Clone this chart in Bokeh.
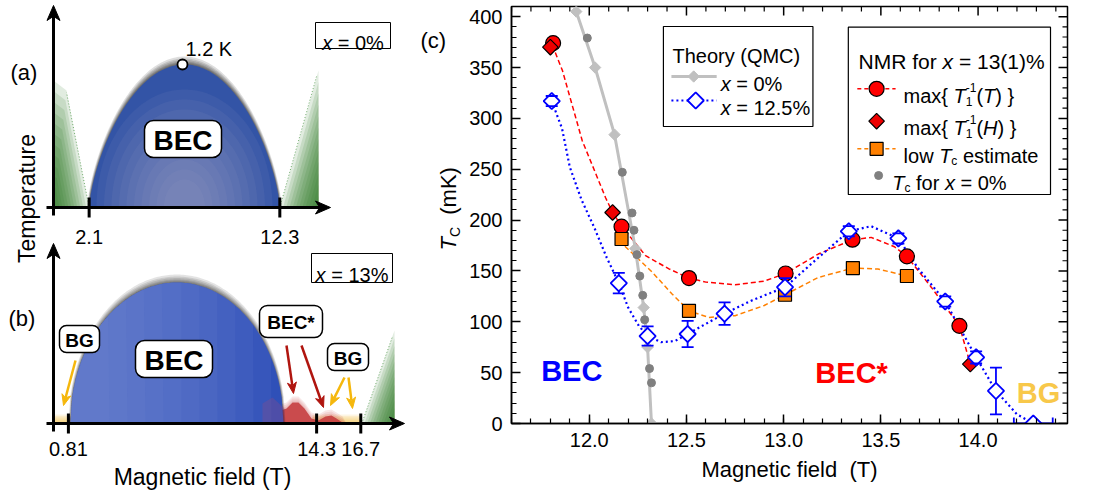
import numpy as np
from bokeh.plotting import figure
from bokeh.layouts import row
from bokeh.models import Range1d, LinearAxis, SingleIntervalTicker, PrintfTickFormatter
from bokeh.core.properties import value
from bokeh.embed import file_html
from bokeh.resources import INLINE

FONT = "Liberation Sans"

# ---------------- panel (c) data ----------------
# Theory (QMC), x = 0 %
qmc0_B = [11.933, 12.03, 12.13, 12.237, 12.28, 12.30, 12.32]
qmc0_T = [405, 350, 284, 172, 114, 75, 0]
# Theory (QMC), x = 12.5 %
qmc12_B = [11.807, 12.152, 12.30, 12.506, 12.696, 13.007, 13.335, 13.59, 13.831, 13.99, 14.092, 14.284]
qmc12_T = [317, 138, 86, 88, 108, 134, 189, 182, 120, 65, 32, 0]
qmc12_dT = [5, 10, 9.5, 13, 11, 9, 5, 5, 5, 6, 23, 0]
qmc12_dB = [0, 0, 0, 0, 0, 0, 0, 0, 0, 0, 0, 0.1]
# guide curve through theory x = 12.5 %
qmc12_fit_B = [11.807, 11.86, 11.9, 11.96, 12.025, 12.09, 12.152, 12.2, 12.255, 12.30, 12.37, 12.44,
               12.506, 12.6, 12.696, 12.836, 13.007, 13.178, 13.335, 13.45, 13.59, 13.69, 13.831,
               13.99, 14.092, 14.2, 14.284]
qmc12_fit_T = [317, 290, 252, 220, 193, 163, 138, 114, 96, 86, 80, 81,
               88, 98, 108, 121, 134, 163, 189, 194, 182, 153, 120,
               65, 32, 9, 0]
# NMR max{T1^-1(T)}
nmrT_B = [11.814, 12.166, 12.513, 13.01, 13.354, 13.634, 13.904]
nmrT_T = [374, 193.5, 143, 147.5, 180.7, 164.3, 96]
# NMR max{T1^-1(H)}
nmrH_B = [11.80, 12.12, 13.96]
nmrH_T = [370, 207.5, 58.4]
# low Tc estimate
low_B = [12.166, 12.513, 13.007, 13.356, 13.634]
low_T = [181.4, 110.8, 126.6, 152.8, 145]
# Tc for x = 0 % (NMR)
tc0_B = [11.99, 12.17, 12.22, 12.23, 12.245, 12.26, 12.275, 12.285, 12.31, 12.32]
tc0_T = [379, 247, 207, 190, 166, 145, 126, 102, 54, 40]
# guide curves
red_fit_B = [11.81, 11.862, 11.964, 12.084, 12.12, 12.17, 12.29, 12.41, 12.513, 12.6, 12.75, 12.9,
             13.01, 13.178, 13.354, 13.45, 13.57, 13.634, 13.76, 13.904, 13.96]
red_fit_T = [372, 347, 278, 222, 207.5, 193, 165, 152, 143, 139, 136.4, 140,
             147.5, 166.6, 180.7, 183, 173.8, 164.3, 133.8, 96, 58.4]
orange_fit_B = [12.166, 12.186, 12.323, 12.426, 12.513, 12.614, 12.75, 12.9, 13.007, 13.178,
                13.356, 13.485, 13.634]
orange_fit_T = [181.4, 173.8, 149, 127.3, 110.8, 104.3, 106, 116, 126.6, 143.6,
                152.8, 151.9, 145]

# ---------------- schematic panels (a), (b) ----------------
a_ticks = [2.1, 12.3]
a_tick_labels = ["2.1", "12.3"]
b_ticks = [0.81, 14.3, 16.7]
b_tick_labels = ["0.81", "14.3", "16.7"]
a_Tmax_label = "1.2 K"

# ---------------- text helpers ----------------
AW = {' ': 278, '\u00a0': 278, '!': 278, '%': 889, '(': 333, ')': 333, '*': 389, '+': 584, ',': 278,
      '-': 333, '.': 278, '=': 584, '{': 334, '}': 334, '\u2212': 584}
for c in '0123456789':
    AW[c] = 556
AW.update({'A': 667, 'B': 667, 'C': 722, 'D': 722, 'E': 667, 'F': 611, 'G': 778, 'H': 722, 'I': 278,
           'K': 667, 'L': 556, 'M': 833, 'N': 722, 'O': 778, 'P': 667, 'Q': 778, 'R': 722, 'S': 667,
           'T': 611, 'U': 722, 'V': 667, 'W': 944, 'X': 667, 'Y': 667, 'Z': 611,
           'a': 556, 'b': 556, 'c': 500, 'd': 556, 'e': 556, 'f': 278, 'g': 556, 'h': 556, 'i': 222,
           'j': 222, 'k': 500, 'l': 222, 'm': 833, 'n': 556, 'o': 556, 'p': 556, 'q': 556, 'r': 333,
           's': 500, 't': 278, 'u': 556, 'v': 500, 'w': 722, 'x': 500, 'y': 500, 'z': 500})
BW = {'B': 722, 'E': 667, 'C': 722, 'G': 778, '*': 389}


def tw(s, size, bold=False):
    tot = 0
    for c in s:
        tot += (BW.get(c, AW.get(c, 556)) if bold else AW.get(c, 556))
    return tot / 1000.0 * size


def txt(p, x, y, t, size, style="normal", color="black", align="left", baseline="middle", angle=0.0):
    p.text(x=[x], y=[y], text=[t], text_font=value(FONT), text_font_size=value(f"{int(round(size))}px"),
           text_font_style=style, text_color=color, text_align=align, text_baseline=baseline, angle=angle)


def rich(p, x, y, parts, size, color="black", ux=1.0, uy=1.0, vertical=False, align="left"):
    """parts: (text, font_style, scale, shift_em(up), advance)"""
    total = sum(tw(t, int(round(size * sc)), 'bold' in st) for t, st, sc, sh, adv in parts if adv)
    cx = -total / 2.0 if align == "center" else 0.0
    for t, st, sc, sh, adv in parts:
        fs = int(round(size * sc))
        up = sh * size
        if vertical:
            ex, ey = -up, cx
        else:
            ex, ey = cx, up
        txt(p, x + ex * ux, y + ey * uy, t.replace(' ', '\u00a0'), fs, style=st, color=color,
            baseline="alphabetic", angle=(np.pi / 2 if vertical else 0.0))
        if adv:
            cx += tw(t, fs, 'bold' in st)


def n(t):
    return (t, "normal", 1.0, 0.0, True)


def it(t):
    return (t, "italic", 1.0, 0.0, True)


def sub(t, adv=True):
    return (t, "normal", 0.62, -0.28, adv)


def sup(t, adv=True):
    return (t, "normal", 0.62, 0.42, adv)


# =============== figure 1 : schematic (a), (b) + labels of (c) ===============
TOTAL_W, H = 1097, 491
W1 = 466
p1 = figure(width=W1, height=H, x_range=Range1d(0, W1), y_range=Range1d(H, 0),
            x_axis_type=None, y_axis_type=None, output_backend="svg", toolbar_location=None,
            min_border=0, outline_line_color=None)
p1.grid.visible = False
p1.frame_align = False

OX = 53.0


def fx(B):
    return OX + 18.4 * B


def dome(x0, x1, ybase, height, a, npts=120):
    xs = np.linspace(x0, x1, npts)
    xc, hw = (x0 + x1) / 2, (x1 - x0) / 2
    u = np.clip((xs - xc) / hw, -1, 1)
    ys = ybase - height * (1 - u ** 2) ** a
    return list(xs), list(ys)


def arrowhead(p, tipx, tipy, dx, dy, L=15, Wd=13, color="black"):
    bx, by = tipx - dx * L, tipy - dy * L
    nx, ny = -dy, dx
    xs = [tipx, bx + nx * Wd / 2, tipx - dx * L * 0.72, bx - nx * Wd / 2]
    ys = [tipy, by + ny * Wd / 2, tipy - dy * L * 0.72, by - ny * Wd / 2]
    p.patch(xs, ys, fill_color=color, line_color=color, line_width=1)


def wedge_grad(p, corner, pts, color, layers=12, alpha=0.14):
    cx, cy = corner
    for k in range(layers):
        t = 1.0 - k / layers
        xs = [cx] + [cx + t * (px - cx) for px, py in pts]
        ys = [cy] + [cy + t * (py - cy) for px, py in pts]
        p.patch(xs, ys, fill_color=color, fill_alpha=alpha, line_color=None)


HALO = [8, 6, 4.5, 3, 2, 1]

# ---------- panel (a) ----------
ya = 207.0
wedge_grad(p1, (OX, ya), [(fx(a_ticks[0]) - 3, ya), (66, 90), (OX, 80)], "#2a7626")
p1.line([fx(a_ticks[0]) - 3, 66], [ya, 92], line_color="#3c8c36", line_width=1, line_dash="1 2", line_alpha=0.7)
xr = fx(a_ticks[1])
wedge_grad(p1, (318, ya), [(xr, ya), (318, 70)], "#2a7626")
p1.line([xr, 316], [ya, 76], line_color="#3c8c36", line_width=1, line_dash="1 2", line_alpha=0.7)

xa0, xa1 = fx(a_ticks[0]) - 3, fx(a_ticks[1])
for s in HALO:
    xs, ys = dome(xa0 - s * 0.25, xa1 + s * 0.25, ya, 143 + s, 0.7)
    p1.patch(xs + [xs[-1], xs[0]], ys + [ya, ya], fill_color="black", fill_alpha=0.13, line_color=None)
xs, ys = dome(xa0, xa1, ya, 143, 0.7)
p1.patch(xs, ys, fill_color="#3354a6", line_color=None)
cxa = (xa0 + xa1) / 2
for k in range(10):
    rx = 88 - k * 7.5
    ry = 118 - k * 10
    th = np.linspace(0, np.pi, 60)
    p1.patch(list(cxa + rx * np.cos(th)), list(ya - ry * np.sin(th)), fill_color="#a6a6cc",
             fill_alpha=0.09, line_color=None)

p1.line([OX, OX], [ya + 8, 14], line_color="black", line_width=3)
arrowhead(p1, OX, 5, 0, -1)
p1.line([46, 320], [ya, ya], line_color="black", line_width=3)
arrowhead(p1, 330, ya, 1, 0)
for B, lab in zip(a_ticks, a_tick_labels):
    xt_ = fx(B) - (3 if B < 5 else 0)
    p1.line([xt_, xt_], [ya - 10, ya + 10], line_color="black", line_width=3)
    txt(p1, xt_, ya + 29, lab, 20, align="center")
p1.scatter([cxa - 2], [ya - 143], size=10, marker="circle", fill_color="white", line_color="black", line_width=1.8)
txt(p1, 185, 48, a_Tmax_label, 20)
txt(p1, 10, 72, "(a)", 22)
p1.quad(left=[144], right=[221], top=[120], bottom=[157], fill_color="white", line_color="black",
        line_width=1.5, border_radius=9)
txt(p1, 182.5, 139.5, "BEC", 28, style="bold", align="center")
p1.quad(left=[315], right=[390], top=[22], bottom=[48], fill_color="white", line_color="black", line_width=1)
rich(p1, 352.5, 42, [it("x"), n(" = 0%")], 20, uy=-1, align="center")

# ---------- panel (b) ----------
yb = 423.0
wedge_grad(p1, (394, yb), [(fx(b_ticks[2]) + 1, yb), (394, 330)], "#2a7626")
p1.line([fx(b_ticks[2]) + 1, 392], [yb, 336], line_color="#3c8c36", line_width=1, line_dash="1 2", line_alpha=0.7)
for k in range(6):
    h = 9 - k * 1.4
    p1.quad(left=[OX], right=[fx(b_ticks[0]) + 6 - k], top=[yb - h], bottom=[yb], fill_color="#f2c24a",
            fill_alpha=0.16, line_color=None)
    p1.quad(left=[fx(b_ticks[1]) - 4], right=[fx(b_ticks[2])], top=[yb - h], bottom=[yb],
            fill_color="#f2c24a", fill_alpha=0.16, line_color=None)
rx_ = [252, 258, 265, 272, 280, 286, 292, 298, 304, 311, 318, 325, 331, 336, 342, 346]
ry_ = [423, 402, 396, 400, 410, 408, 402, 402, 408, 418, 420, 416, 415, 418, 422, 423]
for s in [6, 4, 2]:
    p1.patch(rx_, [v - s if v < yb else yb for v in ry_], fill_color="#c8383c",
             fill_alpha=0.12, line_color=None)
p1.patch(rx_, ry_, fill_color="#c63e40", fill_alpha=0.9, line_color=None)

xb0, xb1 = fx(b_ticks[0]) + 2, 283
for s in HALO:
    xs, ys = dome(xb0 - s * 0.25, xb1 + s * 0.25, yb, 141 + s, 0.5)
    p1.patch(xs + [xs[-1], xs[0]], ys + [yb, yb], fill_color="black", fill_alpha=0.11, line_color=None)
xs, ys = dome(xb0, xb1, yb, 141, 0.5)
p1.patch(xs, ys, fill_color="#2f50b8", line_color=None)
xs_arr, ys_arr = np.array(xs), np.array(ys)
for k in range(10):
    xcut = xb1 - 12 - k * 18
    m = xs_arr <= xcut
    px_ = list(xs_arr[m]) + [xcut]
    py_ = list(ys_arr[m]) + [yb]
    p1.patch(px_, py_, fill_color="#7b93dc", fill_alpha=0.1, line_color=None)
p1.patch([262, 272, 284, 284, 262], [403, 397, 408, 423, 423], fill_color="#8a4a8a", fill_alpha=0.35, line_color=None)

p1.line([OX, OX], [yb + 8, 252], line_color="black", line_width=3)
arrowhead(p1, OX, 243, 0, -1)
p1.line([46, 394], [yb, yb], line_color="black", line_width=3)
arrowhead(p1, 404, yb, 1, 0)
for B, lab in zip(b_ticks, b_tick_labels):
    p1.line([fx(B), fx(B)], [yb - 10, yb + 10], line_color="black", line_width=3)
    txt(p1, fx(B), yb + 25, lab, 20, align="center")
txt(p1, 8, 318, "(b)", 22)
for (x0_, y0_, x1_, y1_, col) in [(75, 360, 63, 405, "#f5b70c"), (344, 377, 330, 405, "#f5b70c"),
                                   (348, 377, 352, 408, "#f5b70c"),
                                   (286, 345, 293, 393, "#b0150f"), (301, 345, 323, 407, "#b0150f")]:
    L = np.hypot(x1_ - x0_, y1_ - y0_)
    dx, dy = (x1_ - x0_) / L, (y1_ - y0_) / L
    p1.line([x0_, x1_ - dx * 8], [y0_, y1_ - dy * 8], line_color=col, line_width=2.5)
    arrowhead(p1, x1_, y1_, dx, dy, L=11, Wd=9, color=col)
p1.quad(left=[135], right=[212], top=[340], bottom=[377], fill_color="white", line_color="black",
        line_width=1.5, border_radius=9)
txt(p1, 173.5, 359.5, "BEC", 28, style="bold", align="center")
p1.quad(left=[59], right=[99], top=[325], bottom=[352], fill_color="white", line_color="black",
        line_width=1.5, border_radius=7)
txt(p1, 79, 339.5, "BG", 19, style="bold", align="center")
p1.quad(left=[259], right=[322], top=[305], bottom=[337], fill_color="white", line_color="black",
        line_width=1.5, border_radius=8)
txt(p1, 290.5, 322, "BEC*", 19, style="bold", align="center")
p1.quad(left=[327], right=[368], top=[343], bottom=[370], fill_color="white", line_color="black",
        line_width=1.5, border_radius=7)
txt(p1, 347.5, 357.5, "BG", 19, style="bold", align="center")
p1.quad(left=[311], right=[392], top=[253], bottom=[282], fill_color="white", line_color="black", line_width=1)
rich(p1, 351.5, 274, [it("x"), n(" = 13%")], 20, uy=-1, align="center")

txt(p1, 26, 198, "Temperature", 23, align="center", angle=np.pi / 2)
txt(p1, 202, 476, "Magnetic field (T)", 23, align="center")

txt(p1, 420, 40, "(c)", 22)
rich(p1, 448, 250, [it("T"), sub("C"), n("  (mK)")], 22, uy=-1, vertical=True)

# =============== figure 2 : panel (c) ===============
W2 = TOTAL_W - W1
XR = (11.6, 14.46)
YR = (0, 410)
FR_L, FR_R, FR_T, FR_B = 510.7, 1067.0, 6.0, 423.0
p2 = figure(width=W2, height=H, x_range=Range1d(*XR), y_range=Range1d(*YR),
            x_axis_type=None, y_axis_type=None, output_backend="svg", toolbar_location=None,
            min_border_left=int(round(FR_L - W1)), min_border_right=int(TOTAL_W - FR_R),
            min_border_top=int(FR_T), min_border_bottom=int(H - FR_B),
            outline_line_color="black", outline_line_width=1.5)
p2.grid.visible = False
p2.frame_align = False

PXU = (XR[1] - XR[0]) / (FR_R - FR_L)
PYU = (YR[1] - YR[0]) / (FR_B - FR_T)


def X(px):
    return XR[0] + (px - FR_L) * PXU


def Y(py):
    return (FR_B - py) * PYU


def mk_axis(ticker, fmt):
    ax = LinearAxis(ticker=ticker, major_tick_in=9, major_tick_out=0, minor_tick_in=5, minor_tick_out=0,
                    major_tick_line_width=1.5, minor_tick_line_width=1.2, axis_line_width=1.5,
                    formatter=PrintfTickFormatter(format=fmt))
    ax.major_label_text_font = FONT
    ax.major_label_text_font_size = "20px"
    ax.major_label_text_color = "black"
    return ax


bx = mk_axis(SingleIntervalTicker(interval=0.5, num_minor_ticks=5), "%.1f")
bx.major_label_standoff = 9
bx.axis_label = "Magnetic field\u00a0 (T)"
bx.axis_label_text_font = FONT
bx.axis_label_text_font_size = "22px"
bx.axis_label_text_font_style = "normal"
bx.axis_label_text_color = "black"
bx.axis_label_standoff = 7
p2.add_layout(bx, "below")
ly = mk_axis(SingleIntervalTicker(interval=50, num_minor_ticks=5), "%d")
ly.major_label_standoff = 9
p2.add_layout(ly, "left")

# inward ticks on the top and right frame edges
top_ticks = [round(v, 2) for v in np.arange(11.6, XR[1], 0.1)]
top_major = [v for v in top_ticks if abs(v * 2 - round(v * 2)) < 1e-6]
top_minor = [v for v in top_ticks if v not in top_major]
right_ticks = list(range(0, 411, 10))
right_major = [v for v in right_ticks if v % 50 == 0]
right_minor = [v for v in right_ticks if v % 50 != 0]
for vals, Lp, lw in [(top_major, 9, 1.5), (top_minor, 5, 1.2)]:
    p2.segment(vals, [YR[1]] * len(vals), vals, [YR[1] - Lp * PYU] * len(vals), line_color="black", line_width=lw)
for vals, Lp, lw in [(right_major, 9, 1.5), (right_minor, 5, 1.2)]:
    p2.segment([XR[1]] * len(vals), vals, [XR[1] - Lp * PXU] * len(vals), vals, line_color="black", line_width=lw)

p2.line(red_fit_B, red_fit_T, line_color="#ff0000", line_width=1.5, line_dash="5 3")
p2.line(orange_fit_B, orange_fit_T, line_color="#ff8000", line_width=1.5, line_dash="5 3")
p2.line(qmc12_fit_B, qmc12_fit_T, line_color="#0000ff", line_width=2.2, line_dash="2 3")
p2.line(qmc0_B, qmc0_T, line_color="#c0c0c0", line_width=3)
p2.scatter(qmc0_B, qmc0_T, marker="square", angle=np.pi / 4, size=8, fill_color="#c0c0c0", line_color="#c0c0c0")
p2.scatter(tc0_B, tc0_T, marker="circle", size=8, fill_color="#808080", line_color="#808080")
p2.scatter(nmrT_B, nmrT_T, marker="circle", size=15, fill_color="#ff0000", line_color="black", line_width=1.2)
p2.scatter(nmrH_B, nmrH_T, marker="square", angle=np.pi / 4, size=11, fill_color="#ee0000",
           line_color="black", line_width=1.2)
p2.scatter(low_B, low_T, marker="square", size=13, fill_color="#ff8000", line_color="black", line_width=1.2)
ylo = [t - d for t, d in zip(qmc12_T, qmc12_dT)]
yhi = [t + d for t, d in zip(qmc12_T, qmc12_dT)]
p2.segment(qmc12_B, ylo, qmc12_B, yhi, line_color="#0000ff", line_width=1.8)
xlo = [b - d for b, d in zip(qmc12_B, qmc12_dB)]
xhi = [b + d for b, d in zip(qmc12_B, qmc12_dB)]
p2.segment(xlo, qmc12_T, xhi, qmc12_T, line_color="#0000ff", line_width=1.8)
p2.scatter(qmc12_B, qmc12_T, marker="square", angle=np.pi / 4, size=11.5, fill_color="white",
           line_color="#0000ff", line_width=1.8)
eb_B = [b for b, d in zip(qmc12_B, qmc12_dT) if d > 0]
p2.scatter(eb_B + eb_B, [t + d for t, d in zip(qmc12_T, qmc12_dT) if d > 0] +
           [t - d for t, d in zip(qmc12_T, qmc12_dT) if d > 0], marker="dash", size=12,
           line_color="#0000ff", line_width=1.8)
hb = [(b, t, d) for b, t, d in zip(qmc12_B, qmc12_T, qmc12_dB) if d > 0]
p2.scatter([b - d for b, t, d in hb] + [b + d for b, t, d in hb], [t for b, t, d in hb] * 2,
           marker="dash", angle=np.pi / 2, size=12, line_color="#0000ff", line_width=1.8)

txt(p2, X(571), Y(370), "BEC", 29, style="bold", color="#0000ff", align="center")
txt(p2, X(851), Y(372), "BEC*", 29, style="bold", color="#ff0000", align="center")
txt(p2, X(1038), Y(392), "BG", 29, style="bold", color="#f8c84a", align="center")

p2.quad(left=[X(662.7)], right=[X(812.3)], top=[Y(26)], bottom=[Y(126)], fill_color="white",
        line_color="black", line_width=1.2)
p2.quad(left=[X(847.7)], right=[X(1050)], top=[Y(26.7)], bottom=[Y(194)], fill_color="white",
        line_color="black", line_width=1.2)
LF = 20
rich(p2, X(671.7), Y(48.3 + 7), [n("Theory (QMC)")], LF, ux=PXU, uy=PYU)
p2.line([X(670.7), X(716)], [Y(76)] * 2, line_color="#c0c0c0", line_width=3)
p2.scatter([X(693)], [Y(76)], marker="square", angle=np.pi / 4, size=8, fill_color="#c0c0c0", line_color="#c0c0c0")
rich(p2, X(720), Y(76 + 7), [it("x"), n(" = 0%")], LF, ux=PXU, uy=PYU)
p2.line([X(670.7), X(716)], [Y(100)] * 2, line_color="#0000ff", line_width=2.2, line_dash="2 3")
p2.scatter([X(695)], [Y(100)], marker="square", angle=np.pi / 4, size=11.5, fill_color="white",
           line_color="#0000ff", line_width=1.8)
rich(p2, X(720), Y(100 + 7), [it("x"), n(" = 12.5%")], LF, ux=PXU, uy=PYU)

rich(p2, X(858), Y(53.3 + 7.5), [n("NMR for "), it("x"), n(" = 13(1)%")], 21, ux=PXU, uy=PYU)
p2.line([X(856.7), X(895)], [Y(88.3)] * 2, line_color="#ff0000", line_width=1.5, line_dash="4 3")
p2.scatter([X(876)], [Y(88.3)], marker="circle", size=15, fill_color="#ff0000", line_color="black", line_width=1.2)
rich(p2, X(903), Y(88.3 + 7), [n("max{ "), it("T"), sub("1", False), sup("-1"), n("("), it("T"), n(") }")],
     LF, ux=PXU, uy=PYU)
p2.scatter([X(876)], [Y(120.7)], marker="square", angle=np.pi / 4, size=11, fill_color="#ee0000",
           line_color="black", line_width=1.2)
rich(p2, X(903), Y(120.7 + 7), [n("max{ "), it("T"), sub("1", False), sup("-1"), n("("), it("H"), n(") }")],
     LF, ux=PXU, uy=PYU)
p2.line([X(856.7), X(895)], [Y(148.3)] * 2, line_color="#ff8000", line_width=1.5, line_dash="4 3")
p2.scatter([X(876)], [Y(148.3)], marker="square", size=13, fill_color="#ff8000", line_color="black", line_width=1.2)
rich(p2, X(903), Y(148.3 + 7), [n("low "), it("T"), sub("c"), n(" estimate")], LF, ux=PXU, uy=PYU)
p2.scatter([X(878)], [Y(175)], marker="circle", size=8, fill_color="#808080", line_color="#808080")
rich(p2, X(891.7), Y(175 + 7), [it("T"), sub("c"), n(" for "), it("x"), n(" = 0%")], LF, ux=PXU, uy=PYU)

layout = row(p1, p2)
open("out.html", "w").write(file_html(layout, INLINE))
